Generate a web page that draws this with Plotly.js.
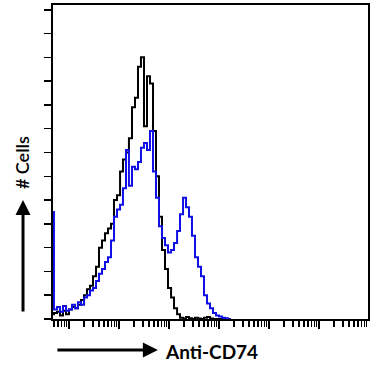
<!DOCTYPE html>
<html>
<head>
<meta charset="utf-8">
<script src="https://cdn.plot.ly/plotly-3.0.1.min.js"></script>
<style>html,body{margin:0;padding:0;background:#fff;}#chart{width:372px;height:377px;}</style>
</head>
<body>
<div id="chart"></div>
<script>
// Fluorescence intensity bins (log scale)
var binValues = [0.48, 0.50, 0.575, 0.661, 0.759, 0.871, 1.00, 1.15, 1.32, 1.51, 1.74, 2.00, 2.29, 2.63, 3.02, 3.47, 3.98, 4.57, 5.25, 6.03, 6.92, 7.94, 9.12, 10.5, 12.0, 13.8, 15.8, 18.2, 20.9, 24.0, 27.5, 31.6, 36.3, 41.7, 47.9, 55.0, 63.1, 72.4, 83.2, 95.5, 110, 126, 145, 166, 191, 219, 251, 288, 331, 380, 437, 501, 575, 661, 759, 871, 1000, 1150, 1320, 1510, 1740];

// Control (isotype) counts
var controlCounts = [0.2, 0.25, 0.3, 0.15, 0.35, 0.2, 0.4, 0.5, 0.45, 0.6, 0.8, 1.0, 1.25, 1.4, 1.8, 2.2, 3.0, 3.3, 3.6, 3.8, 4.0, 5.0, 5.2, 6.2, 6.7, 7.0, 7.6, 8.9, 9.3, 10.6, 11.0, 8.1, 10.2, 9.9, 7.9, 6.0, 4.3, 2.9, 2.1, 1.3, 0.9, 0.45, 0.2, 0.05, 0.02, 0.08, 0.03, 0.0, 0.05, 0.02, 0.0, 0.05, 0.08, 0.02, 0, 0, 0, 0, 0, 0, 0];

// Anti-CD74 counts
var cd74Counts = [4.5, 0.4, 0.5, 0.3, 0.55, 0.35, 0.4, 0.6, 0.45, 0.7, 0.6, 0.9, 1.0, 1.2, 1.3, 1.6, 1.9, 2.1, 2.4, 2.6, 3.3, 4.3, 4.6, 4.8, 5.5, 7.1, 5.6, 6.4, 6.3, 6.6, 7.2, 7.4, 7.1, 7.9, 6.2, 5.1, 3.9, 3.4, 3.1, 2.8, 2.9, 3.2, 3.7, 4.4, 5.1, 4.7, 4.3, 3.5, 2.6, 2.2, 1.8, 1.0, 0.65, 0.45, 0.25, 0.15, 0.1, 0.05, 0.03, 0, 0];

var traces = [
  {x: binValues, y: controlCounts, type: 'scatter', mode: 'lines', line: {shape: 'hv', color: '#000000', width: 2}, hoverinfo: 'skip'},
  {x: binValues, y: cd74Counts, type: 'scatter', mode: 'lines', line: {shape: 'hv', color: '#1010e6', width: 2}, hoverinfo: 'skip'}
];

var fnt = 'Lato, "Open Sans", sans-serif';
var layout = {
  width: 372, height: 377,
  margin: {l: 53, r: 4, t: 5, b: 58},
  paper_bgcolor: '#ffffff', plot_bgcolor: '#ffffff',
  showlegend: false,
  xaxis: {
    type: 'log', range: [-0.32, 5.98], dtick: 1, tick0: 0,
    ticks: 'outside', ticklen: 8, tickwidth: 1.5, tickcolor: '#000',
    showticklabels: false, showgrid: false, zeroline: false,
    showline: true, linewidth: 2, linecolor: '#000', mirror: true,
    minor: {ticks: 'outside', ticklen: 6, tickwidth: 1.3, tickcolor: '#000', dtick: 'D1', showgrid: false}
  },
  yaxis: {
    range: [0, 13.2], dtick: 1, tick0: 0,
    ticks: 'outside', ticklen: 7, tickwidth: 1.5, tickcolor: '#000',
    showticklabels: false, showgrid: false, zeroline: false,
    showline: true, linewidth: 2, linecolor: '#000', mirror: true
  },
  annotations: [
    {xref: 'paper', yref: 'paper', x: -0.0952, y: 0.379, text: '', showarrow: true, ax: 0, ay: 113, arrowhead: 2, arrowsize: 1, arrowwidth: 3, arrowcolor: '#000'},
    {xref: 'paper', yref: 'paper', x: -0.098, y: 0.497, text: '# Cells', textangle: -90, showarrow: false, xanchor: 'center', yanchor: 'middle', font: {family: fnt, size: 18, color: '#000', weight: 600}},
    {xref: 'paper', yref: 'paper', x: 0.333, y: -0.0987, text: '', showarrow: true, ax: -102, ay: 0, arrowhead: 2, arrowsize: 1, arrowwidth: 3, arrowcolor: '#000'},
    {xref: 'paper', yref: 'paper', x: 0.349, y: -0.102, text: 'Anti-CD74', showarrow: false, xanchor: 'left', yanchor: 'middle', font: {family: fnt, size: 19, color: '#000', weight: 700}}
  ]
};

Plotly.newPlot('chart', traces, layout, {staticPlot: true, displayModeBar: false});
</script>
</body>
</html>
